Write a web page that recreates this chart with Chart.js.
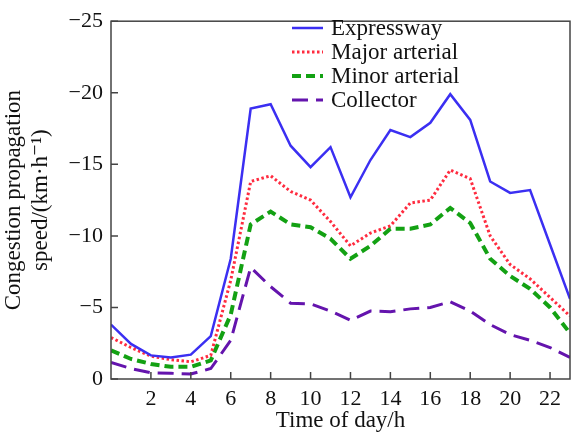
<!DOCTYPE html>
<html>
<head>
<meta charset="utf-8">
<script src="https://cdn.jsdelivr.net/npm/chart.js@4"></script>
<style>
  html, body { margin: 0; padding: 0; background: #fff; }
  #wrap { width: 571px; height: 437px; }
</style>
</head>
<body>
<div id="wrap"><canvas id="myChart" width="571" height="437"></canvas></div>
<script>
const hours = [0, 1, 2, 3, 4, 5, 6, 7, 8, 9, 10, 11, 12, 13, 14, 15, 16, 17, 18, 19, 20, 21, 22, 23];
const expressway = [-3.8, -2.45, -1.65, -1.5, -1.7, -3.0, -8.4, -18.9, -19.2, -16.3, -14.8, -16.2, -12.7, -15.3, -17.4, -16.9, -17.9, -19.9, -18.1, -13.8, -13.0, -13.2, -9.4, -5.6];
const majorArterial = [-2.9, -2.2, -1.6, -1.35, -1.2, -1.65, -6.9, -13.8, -14.2, -13.1, -12.5, -11.0, -9.3, -10.2, -10.7, -12.3, -12.5, -14.6, -14.0, -10.0, -8.0, -7.0, -5.7, -4.4];
const minorArterial = [-2.0, -1.4, -1.05, -0.85, -0.85, -1.3, -4.5, -10.8, -11.7, -10.8, -10.6, -9.8, -8.4, -9.3, -10.5, -10.5, -10.8, -11.95, -10.9, -8.4, -7.2, -6.3, -5.0, -3.2];
const collector = [-1.15, -0.73, -0.43, -0.4, -0.35, -0.73, -2.7, -7.8, -6.45, -5.3, -5.25, -4.75, -4.1, -4.75, -4.7, -4.9, -5.0, -5.4, -4.75, -3.8, -3.1, -2.7, -2.2, -1.5];
const xTickValues = [2, 4, 6, 8, 10, 12, 14, 16, 18, 20, 22];
const yTickValues = [0, -5, -10, -15, -20, -25];

const serif = '"Liberation Serif", "DejaVu Serif", "Times New Roman", serif';

function pts(values) {
  return hours.map((h, i) => ({ x: h, y: values[i] }));
}

// box around the plot + inward tick marks
const frame = {
  id: 'frame',
  afterDatasetsDraw(chart) {
    const { ctx, chartArea: a, scales } = chart;
    ctx.save();
    ctx.strokeStyle = '#444';
    ctx.lineWidth = 1.5;
    ctx.strokeRect(a.left, a.top, a.right - a.left, a.bottom - a.top);
    ctx.beginPath();
    xTickValues.forEach(v => {
      const x = scales.x.getPixelForValue(v);
      ctx.moveTo(x, a.bottom);
      ctx.lineTo(x, a.bottom - 7);
    });
    yTickValues.forEach(v => {
      const y = scales.y.getPixelForValue(v);
      ctx.moveTo(a.left, y);
      ctx.lineTo(a.left + 7, y);
    });
    ctx.stroke();
    ctx.restore();
  }
};

// legend drawn inside the plot, top middle
const insideLegend = {
  id: 'insideLegend',
  afterDraw(chart) {
    const { ctx } = chart;
    ctx.save();
    ctx.font = '23px ' + serif;
    ctx.textBaseline = 'middle';
    chart.data.datasets.forEach((ds, i) => {
      const y = 28 + i * 24;
      ctx.strokeStyle = ds.borderColor;
      ctx.lineWidth = ds.borderWidth;
      ctx.setLineDash(ds.borderDash || []);
      ctx.beginPath();
      ctx.moveTo(292, y);
      ctx.lineTo(323, y);
      ctx.stroke();
      ctx.setLineDash([]);
      ctx.fillStyle = '#111';
      ctx.fillText(ds.label, 331, y + 1);
    });
    ctx.restore();
  }
};

const ctx = document.getElementById('myChart').getContext('2d');
new Chart(ctx, {
  type: 'line',
  data: {
    datasets: [
      { label: 'Expressway', data: pts(expressway), borderColor: '#3b2ff2', borderWidth: 2.5 },
      { label: 'Major arterial', data: pts(majorArterial), borderColor: '#ff2b3f', borderWidth: 3, borderDash: [2.5, 2.5] },
      { label: 'Minor arterial', data: pts(minorArterial), borderColor: '#13a113', borderWidth: 4, borderDash: [9, 5] },
      { label: 'Collector', data: pts(collector), borderColor: '#6414ad', borderWidth: 3, borderDash: [16, 8] }
    ]
  },
  options: {
    responsive: false,
    animation: false,
    layout: { padding: { top: 15, right: 1, left: 0, bottom: 0 } },
    elements: { point: { radius: 0 }, line: { tension: 0, fill: false } },
    plugins: { legend: { display: false }, tooltip: { enabled: false } },
    scales: {
      x: {
        type: 'linear',
        min: 0,
        max: 23,
        grid: { display: false, drawTicks: false },
        border: { display: false },
        afterBuildTicks: s => { s.ticks = xTickValues.map(v => ({ value: v })); },
        afterFit: s => { s.height = 58; },
        ticks: { color: '#111', font: { family: serif, size: 22 }, padding: 7, maxRotation: 0 },
        title: { display: true, text: 'Time of day/h', color: '#111', font: { family: serif, size: 23 }, padding: { top: 0, bottom: 2 } }
      },
      y: {
        reverse: true,
        min: -25,
        max: 0,
        grid: { display: false, drawTicks: false },
        border: { display: false },
        afterBuildTicks: s => { s.ticks = yTickValues.map(v => ({ value: v })); },
        afterFit: s => { s.width = 111; },
        ticks: {
          color: '#111',
          font: { family: serif, size: 22 },
          padding: 8,
          callback: v => (v < 0 ? '\u2212' + Math.abs(v) : String(v))
        },
        title: {
          display: true,
          text: ['Congestion propagation', 'speed/(km\u00b7h\u207b\u00b9)'],
          color: '#111',
          font: { family: serif, size: 23, lineHeight: 1.2 },
          padding: { top: 0, bottom: 0 }
        }
      }
    }
  },
  plugins: [frame, insideLegend]
});
</script>
</body>
</html>
